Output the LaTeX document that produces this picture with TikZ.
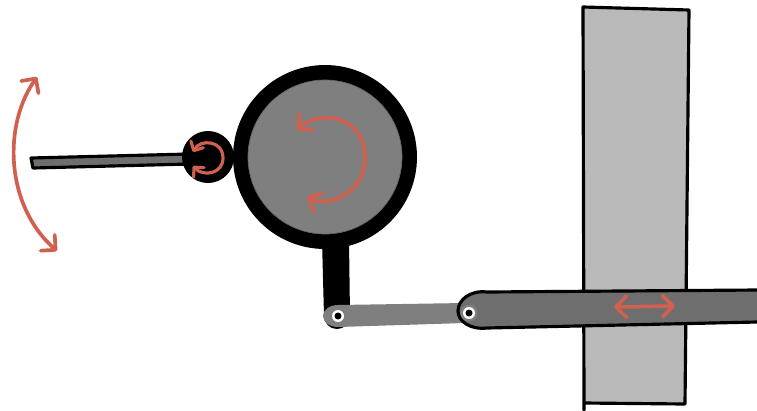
\documentclass[tikz,border=0pt]{standalone}
\usepackage{xcolor}
\usetikzlibrary{arrows.meta, positioning, calc}
\definecolor{motion}{HTML}{D0604F}
\definecolor{guidegray}{HTML}{B9B9B9}
\definecolor{bargray}{HTML}{6E6E6E}
\definecolor{wheelgray}{HTML}{7F7F7F}

\begin{document}
\begin{tikzpicture}[
    x=0.02cm, y=-0.02cm,
    bodyline/.style={draw=black, line width=1.8pt, line join=round},
    wheelouter/.style={circle, fill=black, inner sep=0pt},
    wheelinner/.style={circle, draw=black!60, line width=0.4pt, fill=wheelgray, inner sep=0pt},
    pinring/.style={circle, fill=white, inner sep=0pt, minimum size=0.24cm},
    pindot/.style={circle, fill=black, inner sep=0pt, minimum size=0.14cm},
    halo/.style={circle, fill=gray!60!wheelgray, inner sep=0pt, minimum size=0.34cm},
    motionarrow/.style={draw=motion, line width=2.1pt, line cap=round, {Straight Barb[length=6pt, width=12pt, round]}-{Straight Barb[length=6pt, width=12pt, round]}},
    smallarrow/.style={draw=motion, line width=1.8pt, line cap=round, {Straight Barb[length=4pt, width=8pt, round]}-{Straight Barb[length=4pt, width=8pt, round]}}
]
\useasboundingbox (0,0) rectangle (757,410);

% guide block
\draw[bodyline, fill=guidegray] (583,7) -- (689,10) -- (685,404) -- (584,403) -- (584,410) -- (584,403) -- cycle;

% swing bar
\draw[bodyline, fill=bargray] (31,158) -- (190,154) -- (190,164) -- (33,168) -- cycle;

% wheels
\node[wheelouter, minimum size=1.04cm] (smallwheel) at (208,157) {};
\node[wheelouter, minimum size=3.68cm] (bigwheel) at (325,157) {};
\node[wheelinner, minimum size=3.08cm] (biginner) at (325,157) {};

% crank arm and link
\coordinate (armpin) at (338,316);
\coordinate (sliderpin) at (469,313);
\fill[black] (322,240) -- (349,240) -- (350,316) arc[start angle=0, end angle=180, radius=13] -- cycle;
\fill[wheelgray] ($(armpin)+(0,-11)$) -- (465,303) -- (465,323) -- ($(armpin)+(0,11)$) arc[start angle=90, end angle=270, x radius=15, y radius=11] -- cycle;

% slider
\draw[bodyline, fill=bargray] (757,290) -- (487,292) .. controls (470,290) and (458,300) .. (458,311) .. controls (458,321) and (470,330) .. (487,328) -- (757,322);

% pins
\node[halo] (armhalo) at (armpin) {};
\node[pinring] (armring) at (armpin) {};
\node[pindot] (armdot) at (armpin) {};
\node[halo, fill=wheelgray] (sliderhalo) at (sliderpin) {};
\node[pinring] (sliderring) at (sliderpin) {};
\node[pindot] (sliderdot) at (sliderpin) {};

% motion arrows
\coordinate (swingtop) at (37,77);
\coordinate (swingbot) at (57,251);
\draw[motionarrow] (swingtop) .. controls (3,125) and (5,205) .. (swingbot);
\coordinate (bigtop) at (297,130);
\coordinate (bigbot) at (307,197);
\draw[motionarrow] (bigtop) .. controls (322,108) and (365,117) .. (365,158) .. controls (365,192) and (330,208) .. (bigbot);
\coordinate (smalltop) at (193,152);
\coordinate (smallbot) at (193,166);
\draw[smallarrow] (smalltop) .. controls (200,139) and (223,140) .. (223,158) .. controls (223,174) and (203,177) .. (smallbot);
\coordinate (slideleft) at (614,307);
\coordinate (slideright) at (675,306);
\draw[motionarrow] (slideleft) -- (slideright);
\end{tikzpicture}
\end{document}
